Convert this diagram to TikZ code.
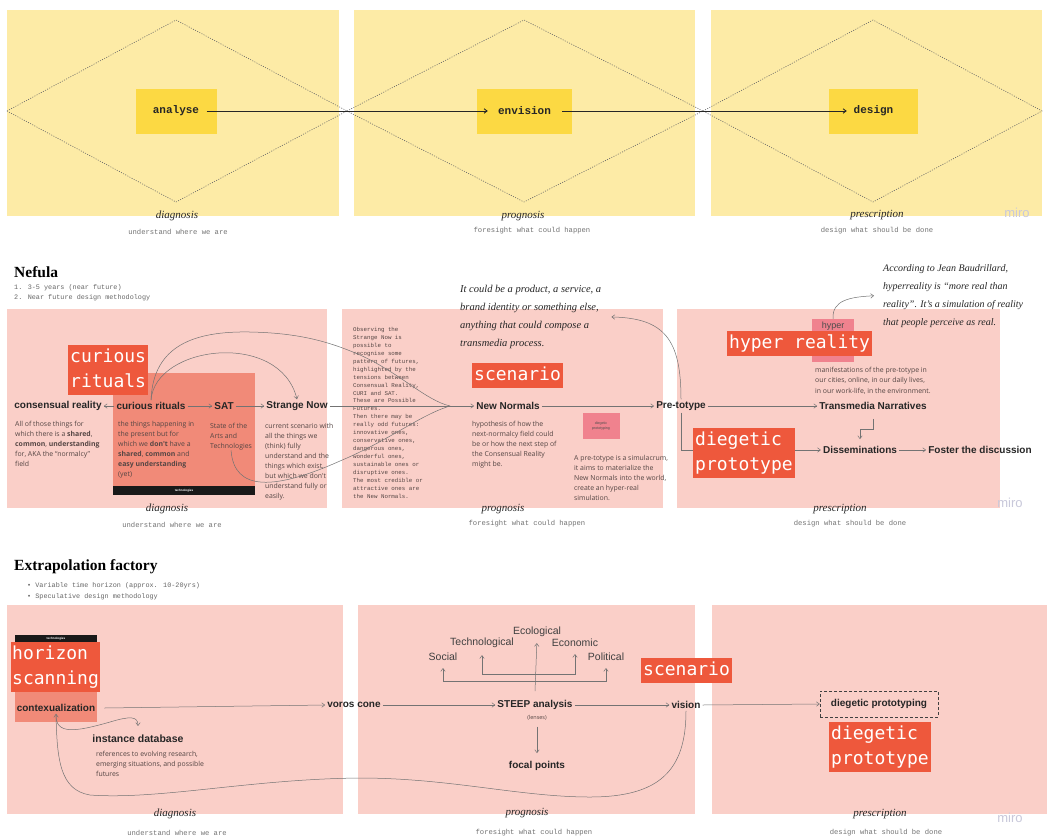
\documentclass[tikz,border=0pt]{standalone}
\usepackage{fontspec}
\usetikzlibrary{arrows.meta}
\newfontfamily\headfont{Liberation Serif}
\newfontfamily\labfont{Liberation Sans}
\newfontfamily\bodyfont{Open Sans}
\newfontfamily\tagfont{DejaVu Sans Mono}
\newfontfamily\subfont{Liberation Mono}
\definecolor{ypanel}{RGB}{253,235,166}
\definecolor{yboxc}{RGB}{252,217,67}
\definecolor{ppanel}{RGB}{250,207,200}
\definecolor{salmon}{RGB}{241,138,120}
\definecolor{tagred}{RGB}{238,88,60}
\definecolor{stickyc}{RGB}{240,130,142}
\definecolor{txtgray}{RGB}{85,70,68}
\definecolor{mirogray}{RGB}{200,200,218}
\begin{document}
\begin{tikzpicture}[x=1pt, y=-1pt,
  >={Straight Barb[length=3pt,width=4.5pt]},
  flowlab/.style={font=\labfont\bfseries\fontsize{10}{12}\selectfont, text=black!85, inner sep=2pt},
  steeplab/.style={font=\labfont\fontsize{10.5}{12}\selectfont, text=black!75, inner sep=2pt},
  desctext/.style={font=\bodyfont\fontsize{6.9}{10}\selectfont, text=txtgray, align=left, anchor=north west, inner sep=0pt},
  tagbox/.style={fill=tagred, text=white, font=\tagfont\fontsize{18}{25}\selectfont, align=left, anchor=north west, inner xsep=2pt, inner ysep=0pt},
  handnote/.style={font=\headfont\itshape\fontsize{10.5}{18}\selectfont, text=black!85, align=left, anchor=north west, inner sep=0pt},
  phasename/.style={font=\headfont\itshape\fontsize{11}{12}\selectfont, text=black!85},
  phasesub/.style={font=\subfont\fontsize{7.2}{9}\selectfont, text=black!55},
  listtext/.style={font=\subfont\fontsize{6.8}{10}\selectfont, text=black!60, anchor=west, inner sep=0pt},
  headline/.style={font=\headfont\bfseries\fontsize{15.5}{17}\selectfont, anchor=west, inner sep=0pt},
  miromark/.style={font=\labfont\fontsize{13}{14}\selectfont, text=mirogray},
  ybox/.style={fill=yboxc, minimum height=45pt, font=\subfont\bfseries\fontsize{11}{12}\selectfont, text=black!85},
  diamondline/.style={draw=black!60, line width=0.6pt, dash pattern=on 1pt off 1.4pt},
  flowline/.style={draw=black!55, line width=0.5pt},
  techbar/.style={fill=black!90, text=white, font=\labfont\bfseries\fontsize{3}{3}\selectfont, inner sep=0pt},
  stickynote/.style={fill=stickyc, text=black!70, inner sep=1pt}]
\useasboundingbox (0,0) rectangle (1057,838);
\fill[white] (0,0) rectangle (1057,838);
% top: double diamond
\fill[ypanel] (7,10) rectangle (339,216);
\fill[ypanel] (354,10) rectangle (695,216);
\fill[ypanel] (711,10) rectangle (1042,216);
\draw[diamondline] (7,111) -- (176,20) -- (347,111) -- (176,202) -- cycle;
\draw[diamondline] (347,111) -- (524,20) -- (703,111) -- (524,202) -- cycle;
\draw[diamondline] (703,111) -- (873,20) -- (1042,111) -- (873,202) -- cycle;
\node[ybox, minimum width=81pt] (analyse) at (176,111) {analyse};
\node[ybox, minimum width=95pt] (envision) at (524.5,111) {envision};
\node[ybox, minimum width=89pt] (design) at (873.5,111) {design};
\draw[->, line width=0.9pt, black!85] ([xshift=-10pt]analyse.east) -- ([xshift=11pt]envision.west);
\draw[->, line width=0.9pt, black!85] ([xshift=-10pt]envision.east) -- ([xshift=18pt]design.west);
\node[phasename] (diagA) at (177,216) {diagnosis};
\node[phasesub] (diagAs) at (178,232) {understand where we are};
\node[phasename] (progA) at (523,216) {prognosis};
\node[phasesub] (progAs) at (532,231) {foresight what could happen};
\node[phasename] (presA) at (877,215) {prescription};
\node[phasesub] (presAs) at (877,231) {design what should be done};
\node[miromark] (miroA) at (1017,213) {miro};
% Nefula
\node[headline] (nefula) at (14,272) {Nefula};
\node[listtext] (nefA) at (14,288) {1. 3-5 years (near future)};
\node[listtext] (nefB) at (14,298) {2. Near future design methodology};
\fill[ppanel] (7,309) rectangle (327,508);
\fill[ppanel] (342,309) rectangle (663,508);
\fill[ppanel] (677,309) rectangle (1000,508);
\fill[salmon] (113,373) rectangle (255,495);
\node[techbar, minimum width=142pt, minimum height=9pt] (techA) at (184,490.5) {technologies};
\node[flowlab] (cons) at (58,406) {consensual reality};
\node[flowlab] (curi) at (151,406) {curious rituals};
\node[flowlab] (sat) at (224,406) {SAT};
\node[flowlab] (strange) at (297,406) {Strange Now};
\node[flowlab] (newn) at (508,406) {New Normals};
\node[flowlab] (pret) at (681,406) {Pre-totype};
\node[flowlab] (trans) at (873,406) {Transmedia Narratives};
\node[flowlab] (diss) at (860,450) {Disseminations};
\node[flowlab] (foster) at (980,450) {Foster the discussion};
\node[desctext] (consd) at (15,421) {All of those things for\\which there is a \textbf{shared},\\\textbf{common}, \textbf{understanding}\\for, AKA the “normalcy”\\field};
\node[desctext] (curid) at (118,421) {the things  happening in\\the present but for\\which we \textbf{don't} have a\\\textbf{shared}, \textbf{common} and\\\textbf{easy understanding}\\(yet)};
\node[desctext] (satd) at (210,423) {State of the\\Arts and\\Technologies};
\node[desctext] (stranged) at (265,423) {current scenario with\\all the things we\\(think) fully\\understand and the\\things which exist,\\but which we don't\\understand fully or\\easily.};
\node[desctext, font=\subfont\fontsize{5.8}{7.95}\selectfont] (observe) at (353,327) {Observing the\\Strange Now is\\possible to\\recognise some\\pattern of futures,\\highlighted by the\\tensions between\\Consensual Reality,\\CURI and SAT.\\These are Possible\\Futures.\\Then there may be\\really odd futures:\\innovative ones,\\conservative ones,\\dangerous ones,\\wonderful ones,\\sustainable ones or\\disruptive ones.\\The most credible or\\attractive ones are\\the New Normals.};
\node[handnote] (prodnote) at (460,285) {It could be a product, a service, a\\brand identity or something else,\\anything that could compose a\\transmedia process.};
\node[desctext] (newnd) at (472,421) {hypothesis of how the\\next-normalcy field could\\be or how the next step of\\the Consensual Reality\\might be.};
\node[stickynote, minimum width=37pt, minimum height=26pt, font=\labfont\fontsize{3.6}{4.5}\selectfont, align=center] (dpst) at (601,426) {diegetic\\prototyping};
\node[desctext] (pretd) at (574,455) {A pre-totype is a simulacrum,\\it aims to materialize the\\New Normals into the world,\\create an hyper-real\\simulation.};
\node[stickynote, minimum width=42pt, minimum height=43pt] (hypst) at (833,340.5) {};
\node[font=\labfont\fontsize{9}{10}\selectfont, text=black!70, anchor=north, inner sep=3pt] (hyptxt) at (hypst.north) {hyper};
\node[handnote, font=\headfont\itshape\fontsize{10}{18}\selectfont] (baud) at (883,264) {According to Jean Baudrillard,\\hyperreality is “more real than\\reality”. It’s a simulation of reality\\that people perceive as real.};
\node[desctext, font=\bodyfont\fontsize{6.9}{10.5}\selectfont] (transd) at (815,367) {manifestations of the pre-totype in\\our cities, online, in our daily lives,\\in our work-life, in the environment.};
\coordinate (conv) at (450,406);
\draw[flowline, ->] (curi.west) -- (cons.east);
\draw[flowline, ->] (curi.east) -- (sat.west);
\draw[flowline, ->] (sat.east) -- (strange.west);
\draw[flowline, ->] (strange.east) -- (newn.west);
\draw[flowline, ->] (curi.north) .. controls (155,345) and (280,330) .. (strange.north);
\draw[flowline] (curi.north) .. controls (153,345) and (195,331) .. (250,332) .. controls (300,333) and (330,342) .. (360,355) .. controls (400,373) and (425,400) .. (conv);
\draw[flowline] (satd.south) .. controls (234,492) and (275,490) .. (340,461) .. controls (390,440) and (420,415) .. (conv);
\draw[flowline, ->] (newn.east) -- (pret.west);
\draw[flowline, ->] (pret.north) .. controls (681,340) and (665,318) .. ([xshift=10pt]prodnote.east);
\draw[flowline, ->] (pret.south) |- (diss.west);
\draw[flowline, ->] (pret.east) -- (trans.west);
\draw[flowline, ->] (trans.south) ++(0,7) -- ++(0,10) -| ([yshift=5pt]diss.north);
\draw[flowline, ->] (diss.east) -- (foster.west);
\draw[flowline, ->] (hypst.north) .. controls (832,300) and (850,297) .. ([xshift=-9pt]baud.west);
\node[tagbox] (curitag) at (68,345) {\strut curious\\\strut rituals};
\node[tagbox] (scenA) at (472,363) {\strut scenario};
\node[tagbox] (hyptag) at (727,331) {\strut hyper reality};
\node[tagbox] (dptagA) at (693,428) {\strut diegetic\\\strut prototype};
\node[phasename] (diagB) at (167,509) {diagnosis};
\node[phasesub] (diagBs) at (172,525) {understand where we are};
\node[phasename] (progB) at (503,509) {prognosis};
\node[phasesub] (progBs) at (527,524) {foresight what could happen};
\node[phasename] (presB) at (840,509) {prescription};
\node[phasesub] (presBs) at (850,524) {design what should be done};
\node[miromark] (miroB) at (1010,503) {miro};
% Extrapolation factory
\node[headline] (extra) at (14,567) {Extrapolation factory};
\node[listtext] (extA) at (27,586) {\textbullet\ Variable time horizon (approx. 10-20yrs)};
\node[listtext] (extB) at (27,597) {\textbullet\ Speculative design methodology};
\fill[ppanel] (7,605) rectangle (343,814);
\fill[ppanel] (358,605) rectangle (695,814);
\fill[ppanel] (712,605) rectangle (1047,814);
\node[techbar, minimum width=82pt, minimum height=7pt] (techB) at (56,638.5) {technologies};
\fill[salmon] (15,642) rectangle (97,722);
\node[flowlab] (ctx) at (56,708) {contexualization};
\node[flowlab] (voros) at (354,705) {voros cone};
\node[flowlab] (steep) at (535,705) {STEEP analysis};
\node[font=\bodyfont\fontsize{5.5}{6}\selectfont, text=txtgray, inner sep=1pt] (lenses) at (537,718) {(lenses)};
\node[flowlab] (vision) at (686,705) {vision};
\node[flowlab, draw=black!75, densely dashed, minimum width=118pt, minimum height=26pt] (dproto) at (879,704) {diegetic prototyping};
\node[steeplab] (eco) at (537,632) {Ecological};
\node[steeplab] (tech) at (482,643) {Technological};
\node[steeplab] (econ) at (575,643) {Economic};
\node[steeplab] (soc) at (443,657) {Social};
\node[steeplab] (pol) at (606,657) {Political};
\node[flowlab] (focal) at (537,766) {focal points};
\node[flowlab, font=\labfont\bfseries\fontsize{10.5}{12}\selectfont] (inst) at (138,739) {instance database};
\node[desctext] (instd) at (96,751) {references to evolving research,\\emerging situations, and possible\\futures};
\coordinate (brA) at (537,674);
\coordinate (brB) at (537,681);
\draw[flowline, ->] (ctx.east) ++(7,0) -- (voros.west);
\draw[flowline, ->] (voros.east) -- (steep.west);
\draw[flowline, ->] (steep.east) -- (vision.west);
\draw[flowline, ->] (vision.east) -- (dproto.west);
\draw[flowline, ->, shorten >=4pt] ([yshift=7pt]steep.north) -- (eco.south);
\draw[flowline, <->, shorten <=5pt, shorten >=5pt] (tech.south) |- (brA) -| (econ.south);
\draw[flowline, <->, shorten <=5pt, shorten >=5pt] (soc.south) |- (brB) -| (pol.south);
\draw[flowline, ->] (lenses.south) ++(0,5) -- ([yshift=6pt]focal.north);
\draw[flowline, ->] (ctx.south) .. controls (55,735) and (75,732) .. (110,722) .. controls (130,716) and (138,716) .. ([yshift=7pt]inst.north);
\draw[flowline, ->] (vision.south) .. controls (686,770) and (660,797) .. (590,797) .. controls (520,797) and (450,778) .. (360,778) .. controls (250,779) and (160,800) .. (90,795) .. controls (60,790) and (57,760) .. (ctx.south);
\node[tagbox, inner xsep=1pt] (horiz) at (11,642) {\strut horizon\\\strut scanning};
\node[tagbox] (scenB) at (641,658) {\strut scenario};
\node[tagbox] (dptagB) at (829,722) {\strut diegetic\\\strut prototype};
\node[phasename] (diagC) at (175,814) {diagnosis};
\node[phasesub] (diagCs) at (177,833) {understand where we are};
\node[phasename] (progC) at (527,813) {prognosis};
\node[phasesub] (progCs) at (534,833) {foresight what could happen};
\node[phasename] (presC) at (880,814) {prescription};
\node[phasesub] (presCs) at (886,833) {design what should be done};
\node[miromark] (miroC) at (1010,818) {miro};
\end{tikzpicture}
\end{document}
